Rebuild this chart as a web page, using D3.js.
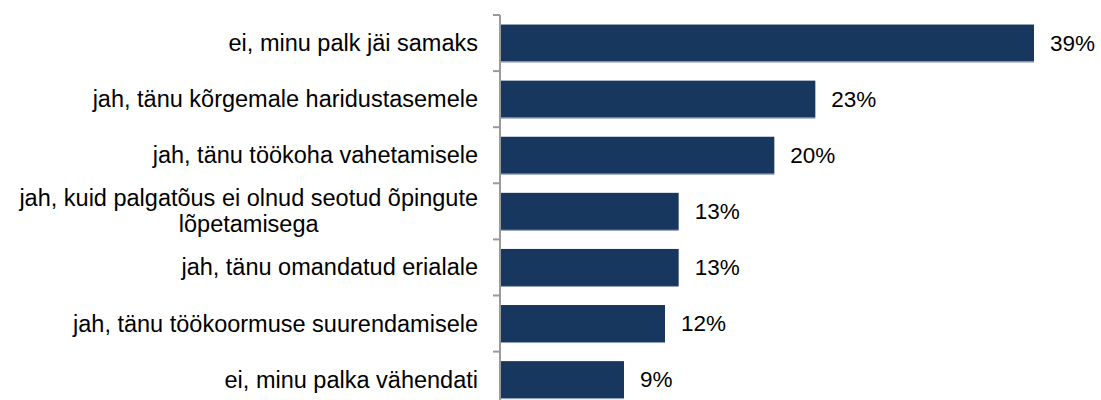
<!DOCTYPE html>
<html>
<head>
<meta charset="utf-8">
<script src="https://cdn.jsdelivr.net/npm/d3@7"></script>
<style>
  html, body { margin: 0; padding: 0; background: #fff; }
  svg { display: block; }
  text { font-family: "Liberation Sans", Arial, sans-serif; fill: #000; }
</style>
</head>
<body>
<svg id="chart" width="1101" height="400"></svg>
<script>
// Survey answers (category labels) and share of respondents, %
const categories = [
  "ei, minu palk jäi samaks",
  "jah, tänu kõrgemale haridustasemele",
  "jah, tänu töökoha vahetamisele",
  "jah, kuid palgatõus ei olnud seotud õpingute lõpetamisega",
  "jah, tänu omandatud erialale",
  "jah, tänu töökoormuse suurendamisele",
  "ei, minu palka vähendati"
];
const values = [39, 23, 20, 13, 13, 12, 9];
const valueLabels = ["39%", "23%", "20%", "13%", "13%", "12%", "9%"];

const svg = d3.select("#chart");
const valueFont = 22.5;
const labelFont = 23.5;
const axisX = 500;
const plotTop = 15;
const bandH = 56.1;

const y = d3.scaleBand()
  .domain(categories)
  .range([plotTop, plotTop + bandH * categories.length])
  .paddingInner(0.34)
  .paddingOuter(0.17);

const x = d3.scaleLinear().domain([0, 39]).range([axisX + 1, 1034]);

// bars
svg.append("g").selectAll("rect")
  .data(values)
  .join("rect")
  .attr("x", x(0))
  .attr("y", (d, i) => y(categories[i]))
  .attr("width", d => x(d) - x(0))
  .attr("height", y.bandwidth())
  .attr("fill", "#17375e");

// thin lighter edge along the bottom of each bar
svg.append("g").selectAll("line")
  .data(values)
  .join("line")
  .attr("x1", x(0))
  .attr("x2", d => x(d))
  .attr("y1", (d, i) => y(categories[i]) + y.bandwidth() + 0.5)
  .attr("y2", (d, i) => y(categories[i]) + y.bandwidth() + 0.5)
  .attr("stroke", "#8a9bb3")
  .attr("stroke-width", 1);

// value labels
svg.append("g").selectAll("text")
  .data(values)
  .join("text")
  .attr("x", d => x(d) + 16)
  .attr("y", (d, i) => y(categories[i]) + y.bandwidth() / 2)
  .attr("dominant-baseline", "central")
  .attr("font-size", valueFont)
  .text((d, i) => valueLabels[i]);

// vertical axis with ticks on band boundaries
const axisG = svg.append("g");
axisG.append("line")
  .attr("x1", axisX).attr("x2", axisX)
  .attr("y1", plotTop).attr("y2", 400)
  .attr("stroke", "#9a9a9a").attr("stroke-width", 2);
const bounds = d3.range(categories.length + 1).map(i => plotTop + i * bandH);
axisG.selectAll("line.tick")
  .data(bounds)
  .join("line")
  .attr("class", "tick")
  .attr("x1", axisX - 7).attr("x2", axisX)
  .attr("y1", d => d).attr("y2", d => d)
  .attr("stroke", "#9a9a9a").attr("stroke-width", 2);

// category labels, wrapped to fit left of the axis
const labelRight = 478;
const maxW = 475;
const lineH = 26;
const labelG = svg.append("g");
categories.forEach((c, i) => {
  const cy = y(c) + y.bandwidth() / 2;
  const probe = labelG.append("text").attr("font-size", labelFont);
  const words = c.split(" ");
  const lines = [];
  let cur = "";
  words.forEach(w => {
    const test = cur ? cur + " " + w : w;
    probe.text(test);
    if (probe.node().getComputedTextLength() > maxW && cur) {
      lines.push(cur);
      cur = w;
    } else cur = test;
  });
  lines.push(cur);
  const widths = lines.map(l => { probe.text(l); return probe.node().getComputedTextLength(); });
  probe.remove();
  const blockW = d3.max(widths);
  const centerX = labelRight - blockW / 2;
  const t = labelG.append("text")
    .attr("font-size", labelFont)
    .attr("text-anchor", "middle")
    .attr("dominant-baseline", "central");
  lines.forEach((l, k) => {
    t.append("tspan")
      .attr("x", centerX)
      .attr("y", cy + (k - (lines.length - 1) / 2) * lineH)
      .text(l);
  });
});
</script>
</body>
</html>
